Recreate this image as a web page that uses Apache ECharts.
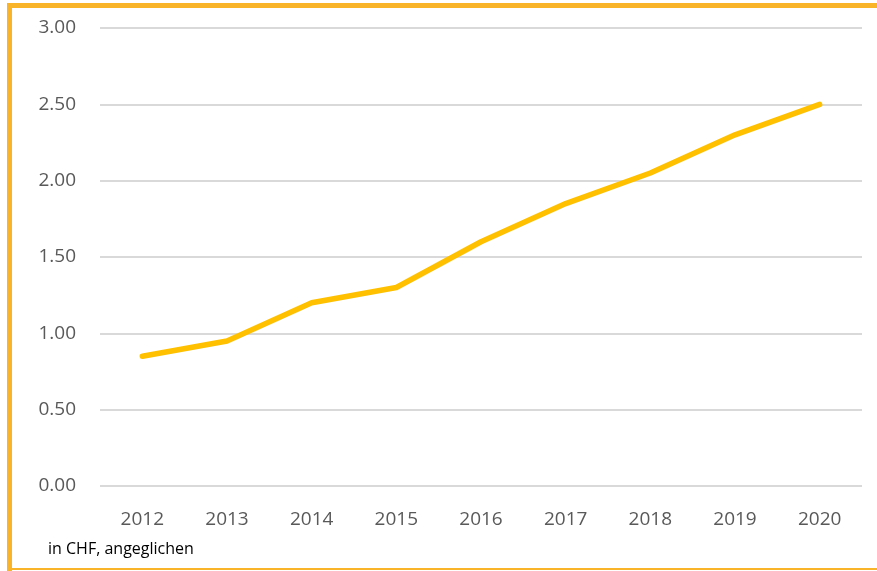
<!DOCTYPE html>
<html><head><meta charset="utf-8">
<script src="https://cdn.jsdelivr.net/npm/echarts@6/dist/echarts.min.js"></script>
<style>html,body{margin:0;padding:0;background:#fff}#c{width:877px;height:571px}</style>
</head><body><div id="c"></div>
<script>
const years = ['2012','2013','2014','2015','2016','2017','2018','2019','2020'];
const values = [0.85, 0.95, 1.2, 1.3, 1.6, 1.85, 2.05, 2.3, 2.5];
const yTicks = [0, 0.5, 1, 1.5, 2, 2.5, 3];
const note = 'in CHF, angeglichen';

const chart = echarts.init(document.getElementById('c'), null, {renderer:'canvas'});
chart.setOption({
  animation:false,
  backgroundColor:'#fff',
  grid:{left:100, right:15, top:28, bottom:85, containLabel:false},
  xAxis:{type:'category', data:years, boundaryGap:true,
    axisLine:{show:false}, axisTick:{show:false},
    axisLabel:{color:'#595959', fontSize:19, fontFamily:'Open Sans', margin:24}},
  yAxis:{type:'value', min:yTicks[0], max:yTicks[yTicks.length-1], interval:0.5,
    axisLine:{show:false}, axisTick:{show:false},
    splitLine:{lineStyle:{color:'#d9d9d9', width:2}},
    axisLabel:{color:'#595959', fontSize:19, fontFamily:'Open Sans', margin:24,
      formatter:v=>v.toFixed(2)}},
  series:[{type:'line', data:values, symbol:'none',
    lineStyle:{color:'#FFC000', width:5.5, cap:'round', join:'round'}}],
  graphic:[
    {type:'rect', shape:{x:7,y:3,width:870,height:5}, style:{fill:'#F9B42A'}},
    {type:'rect', shape:{x:7,y:3,width:5,height:568}, style:{fill:'#F9B42A'}},
    {type:'rect', shape:{x:7,y:568,width:870,height:2}, style:{fill:'#F9B42A'}},
    {type:'text', left:48, top:541, style:{text:note, fill:'#000', fontSize:16, fontFamily:'Open Sans'}}
  ]
});
</script></body></html>
